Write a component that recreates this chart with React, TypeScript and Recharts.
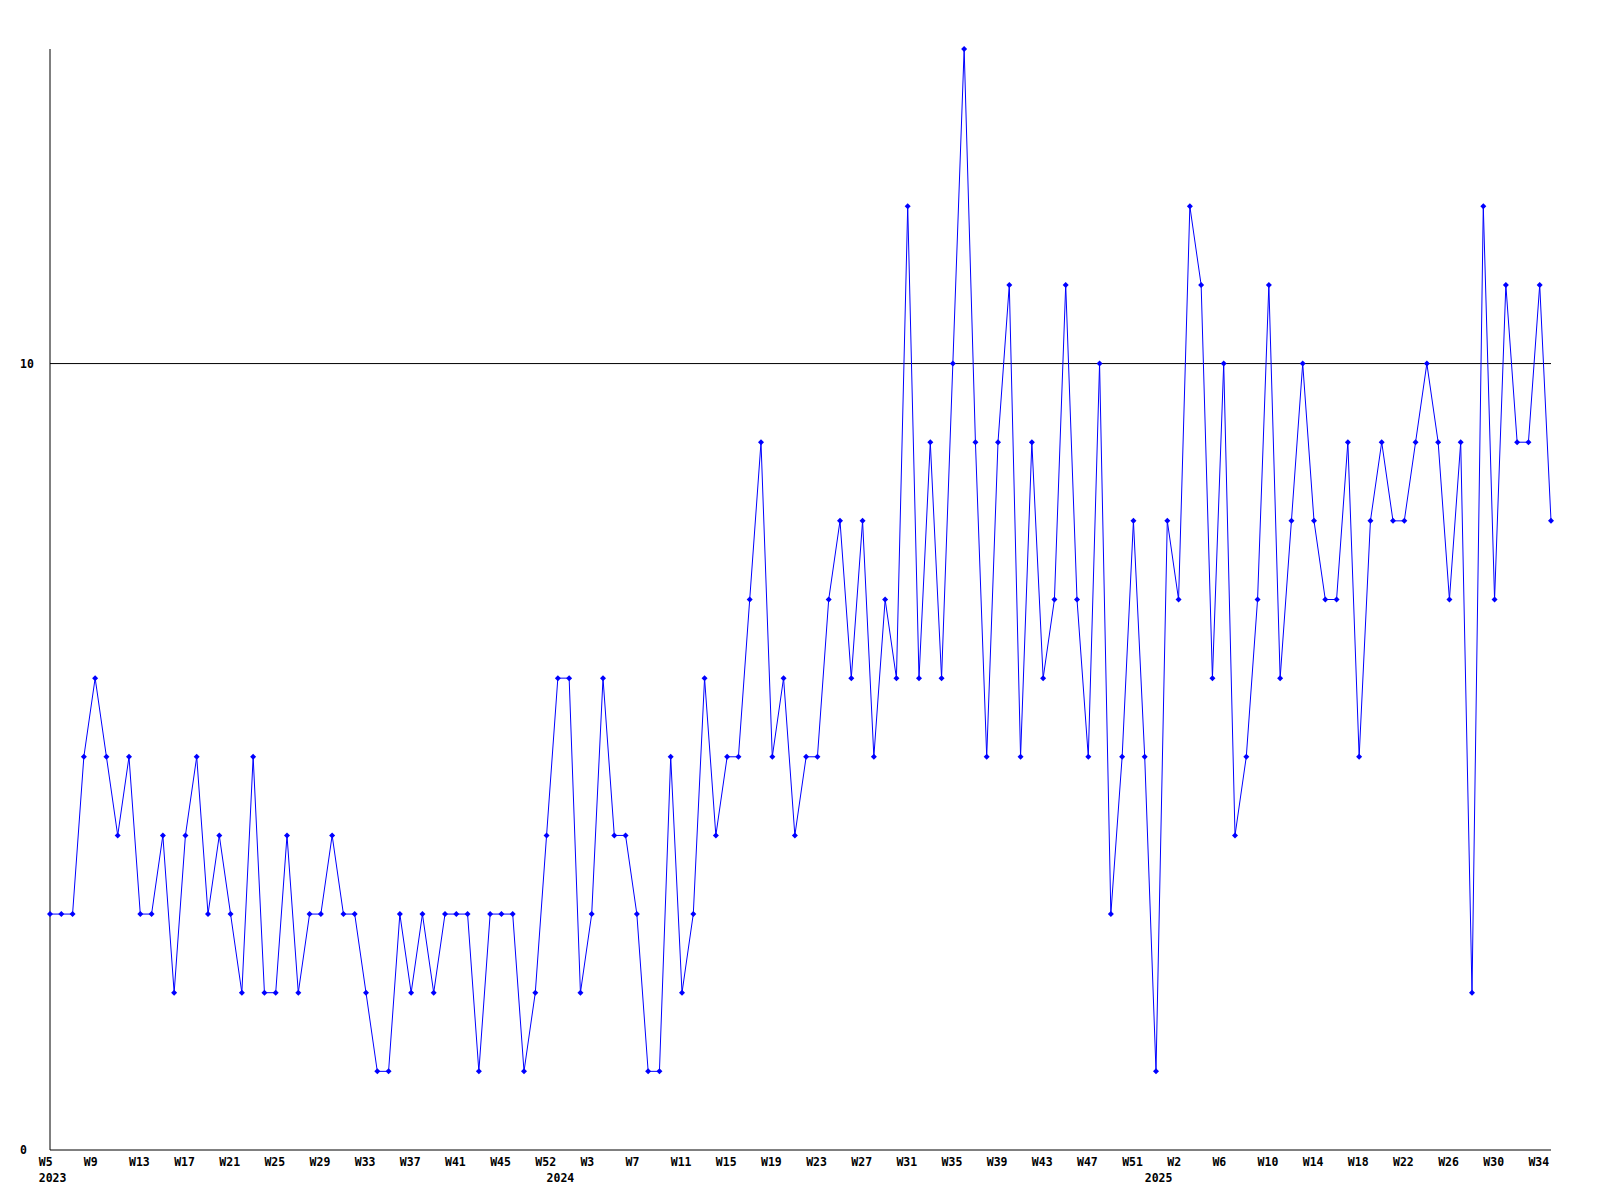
import React from "react";
import { LineChart, Line, XAxis, YAxis, ReferenceLine } from "recharts";

// weekly counts, first point is W5 2023, last is W35 2025
const counts = [
  3, 3, 3, 5, 6, 5, 4, 5, 3, 3,
  4, 2, 4, 5, 3, 4, 3, 2, 5, 2,
  2, 4, 2, 3, 3, 4, 3, 3, 2, 1,
  1, 3, 2, 3, 2, 3, 3, 3, 1, 3,
  3, 3, 1, 2, 4, 6, 6, 2, 3, 6,
  4, 4, 3, 1, 1, 5, 2, 3, 6, 4,
  5, 5, 7, 9, 5, 6, 4, 5, 5, 7,
  8, 6, 8, 5, 7, 6, 12, 6, 9, 6,
  10, 14, 9, 5, 9, 11, 5, 9, 6, 7,
  11, 7, 5, 10, 3, 5, 8, 5, 1, 8,
  7, 12, 11, 6, 10, 4, 5, 7, 11, 6,
  8, 10, 8, 7, 7, 9, 5, 8, 9, 8,
  8, 9, 10, 9, 7, 9, 2, 12, 7, 11,
  9, 9, 11, 8,
];

// one label every 4th point
const weekTicks = [
  "W5", "W9", "W13", "W17", "W21", "W25", "W29", "W33", "W37", "W41", "W45", "W52",
  "W3", "W7", "W11", "W15", "W19", "W23", "W27", "W31", "W35", "W39", "W43", "W47", "W51",
  "W2", "W6", "W10", "W14", "W18", "W22", "W26", "W30", "W34",
];

const years = ["2023", "2024", "2025"];
const yearStart = [0, 45, 98];

const yTicks = [0, 10];

const data = counts.map((v, i) => ({ i, v }));
const allTicks = data.map((d) => d.i);

const W = 1600;
const H = 1200;
const LEFT = 50;
const RIGHT = 49;
const STEP = (W - LEFT - RIGHT) / (counts.length - 1);
const FONT = "'DejaVu Sans Mono', monospace";

const WeekTick = (props: any) => {
  const { x, payload } = props;
  const i = payload.value;
  const wk = i % 4 === 0 ? weekTicks[i / 4] : null;
  const yi = yearStart.indexOf(i);
  if (!wk && yi < 0) return null;
  return (
    <g>
      {wk && (
        <text x={x - STEP} y={1166} fontFamily={FONT} fontWeight="bold" fontSize={11.5} fill="#000">
          {wk}
        </text>
      )}
      {yi >= 0 && (
        <text x={x - STEP} y={1182} fontFamily={FONT} fontWeight="bold" fontSize={11.5} fill="#000">
          {years[yi]}
        </text>
      )}
    </g>
  );
};

const ValTick = (props: any) => {
  const { y, payload } = props;
  return (
    <text x={20} y={y + 4} fontFamily={FONT} fontWeight="bold" fontSize={11.5} fill="#000">
      {payload.value}
    </text>
  );
};

const Marker = (props: any) => {
  const { cx, cy, index } = props;
  if (cx == null || cy == null) return <g key={index} />;
  return (
    <path
      key={index}
      d={`M${cx - 3},${cy} L${cx},${cy - 3} L${cx + 3},${cy} L${cx},${cy + 3} Z`}
      fill="#0000ff"
      stroke="none"
    />
  );
};

export default function App() {
  return (
    <div style={{ position: "absolute", left: 0, top: 0, width: W, height: H, background: "#fff" }}>
      <LineChart width={W} height={H} data={data} margin={{ top: 49, right: RIGHT, bottom: 0, left: 0 }}>
        <XAxis
          type="number"
          dataKey="i"
          domain={[0, counts.length - 1]}
          ticks={allTicks}
          interval={0}
          height={50}
          tickLine={false}
          axisLine={{ stroke: "#000" }}
          tick={<WeekTick />}
        />
        <YAxis
          domain={[0, 14]}
          ticks={yTicks}
          width={LEFT}
          tickLine={false}
          axisLine={{ stroke: "#000" }}
          tick={<ValTick />}
        />
        <ReferenceLine y={10} stroke="#000" strokeWidth={1} />
        <Line
          type="linear"
          dataKey="v"
          stroke="#0000ff"
          strokeWidth={1}
          dot={<Marker />}
          activeDot={false}
          isAnimationActive={false}
        />
      </LineChart>
    </div>
  );
}
